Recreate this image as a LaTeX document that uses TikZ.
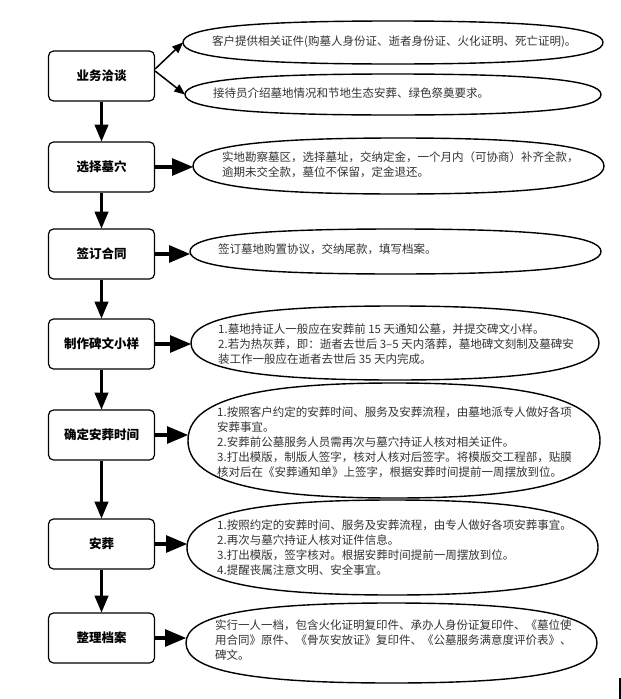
\documentclass[tikz,border=0pt]{standalone}
\usepackage{fontspec}
\usepackage{tikz}
\usetikzlibrary{arrows}
\usetikzlibrary{calc}
\setmainfont{Noto Sans CJK SC}
\newcommand\bulge{0.69}
\tikzset{
  stage/.style = {draw, line width=1.2pt, rounded corners=5pt, minimum width=106pt, minimum height=50pt, font=\fontsize{12.5}{15}\selectfont\bfseries},
  bubble/.style = {inner sep=0pt, outer sep=0pt},
  outline/.style = {line width=1.4pt},
  note/.style = {anchor=west, align=left, inner sep=0pt, text=black!80, font=\fontsize{11.5}{15}\selectfont},
  down arrow/.style = {line width=3pt, -triangle 45},
  side arrow/.style = {line width=4pt, -triangle 45},
  fork arrow/.style = {line width=1.5pt, -triangle 45}
}

\begin{document}
\begin{tikzpicture}[x=1pt,y=-1pt]
  \useasboundingbox (0,0) rectangle (621,699);

  % steps on the left
  \node[stage] (b1) at (101.5,76) {业务洽谈};
  \node[stage] (b2) at (101.5,167) {选择墓穴};
  \node[stage] (b3) at (101.5,254) {签订合同};
  \node[stage] (b4) at (101.5,344) {制作碑文小样};
  \node[stage] (b5) at (101.5,435) {确定安葬时间};
  \node[stage] (b6) at (101.5,544) {安葬};
  \node[stage] (b7) at (101.5,638) {整理档案};

  \foreach \a/\b in {b1/b2, b2/b3, b3/b4, b4/b5, b5/b6, b6/b7}
    \draw[down arrow] (\a) -- (\b);

  % notes on the right
  \node[bubble, minimum width=420pt, minimum height=43pt] (e1) at (393,42.5) {};
  \node[bubble, minimum width=416pt, minimum height=41pt] (e2) at (393,94.5) {};
  \node[bubble, minimum width=411pt, minimum height=56pt] (e3) at (398.5,166) {};
  \node[bubble, minimum width=411pt, minimum height=45pt] (e4) at (395.5,251.5) {};
  \node[bubble, minimum width=408pt, minimum height=74pt] (e5) at (395,343) {};
  \node[bubble, minimum width=412pt, minimum height=115pt] (e6) at (394,440.5) {};
  \node[bubble, minimum width=411pt, minimum height=95pt] (e7) at (392.5,547.5) {};
  \node[bubble, minimum width=411pt, minimum height=80pt] (e8) at (391.5,643) {};

  \foreach \i in {1,...,8}
    \draw[outline] (e\i.west)
      .. controls ($(e\i.west)!\bulge!(e\i.north west)$) and ($(e\i.north)!\bulge!(e\i.north west)$) .. (e\i.north)
      .. controls ($(e\i.north)!\bulge!(e\i.north east)$) and ($(e\i.east)!\bulge!(e\i.north east)$) .. (e\i.east)
      .. controls ($(e\i.east)!\bulge!(e\i.south east)$) and ($(e\i.south)!\bulge!(e\i.south east)$) .. (e\i.south)
      .. controls ($(e\i.south)!\bulge!(e\i.south west)$) and ($(e\i.west)!\bulge!(e\i.south west)$) .. (e\i.west) -- cycle;

  \node[note] (t1) at (212,42) {客户提供相关证件(购墓人身份证、逝者身份证、火化证明、死亡证明)。};
  \node[note] (t2) at (213,93) {接待员介绍墓地情况和节地生态安葬、绿色祭奠要求。};
  \node[note] (t3) at (222,165) {实地勘察墓区，选择墓址，交纳定金，一个月内（可协商）补齐全款，\\逾期未交全款，墓位不保留，定金退还。};
  \node[note] (t4) at (218,249) {签订墓地购置协议，交纳尾款，填写档案。};
  \node[note] (t5) at (218,344) {1.墓地持证人一般应在安葬前 15 天通知公墓，并提交碑文小样。\\2.若为热灰葬，即：逝者去世后 3–5 天内落葬，墓地碑文刻制及墓碑安\\装工作一般应在逝者去世后 35 天内完成。};
  \node[note] (t6) at (217,442) {1.按照客户约定的安葬时间、服务及安葬流程，由墓地派专人做好各项\\安葬事宜。\\2.安葬前公墓服务人员需再次与墓穴持证人核对相关证件。\\3.打出模版，制版人签字，核对人核对后签字。将模版交工程部，贴膜\\核对后在《安葬通知单》上签字，根据安葬时间提前一周摆放到位。};
  \node[note] (t7) at (217,548) {1.按照约定的安葬时间、服务及安葬流程，由专人做好各项安葬事宜。\\2.再次与墓穴持证人核对证件信息。\\3.打出模版，签字核对。根据安葬时间提前一周摆放到位。\\4.提醒丧属注意文明、安全事宜。};
  \node[note] (t8) at (215,640) {实行一人一档，包含火化证明复印件、承办人身份证复印件、《墓位使\\用合同》原件、《骨灰安放证》复印件、《公墓服务满意度评价表》、\\碑文。};

  \draw[fork arrow] ([yshift=7pt]b1.east) -- (e1.west);
  \draw[fork arrow] ([yshift=5pt]b1.east) -- (e2.west);

  \foreach \a/\b in {b2/e3, b3/e4, b4/e5, b5/e6, b6/e7, b7/e8}
    \draw[side arrow] (\a.east) -- (\a.east -| \b.west);

  \draw[line width=2pt] (620,678) -- (620,699);
\end{tikzpicture}
\end{document}
